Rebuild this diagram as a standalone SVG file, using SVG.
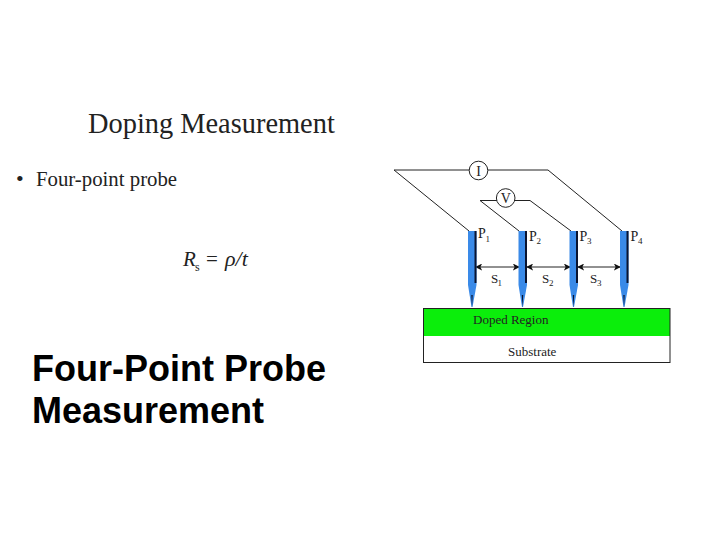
<svg xmlns="http://www.w3.org/2000/svg" width="720" height="540" viewBox="0 0 720 540">
<style>
.w{fill:none;stroke:#222;stroke-width:1}
.s{font-family:"Liberation Serif",serif;fill:#222}
.t{font-family:"Liberation Sans",Arial,sans-serif;font-size:36px;font-weight:700;fill:#000}
.body{fill:#3a8ae8}
.dark{fill:#0a1430}
.c{fill:#fff;stroke:#222;stroke-width:1}
</style>
<defs>
<marker id="a" viewBox="0 0 8 8" refX="7" refY="4" markerWidth="7" markerHeight="7" orient="auto-start-reverse" markerUnits="userSpaceOnUse"><path d="M0 0L8 4L0 8L2 4Z" fill="#111"/></marker>
<g id="probe"><path class="body" d="M0 0H8.500V54L4.500 76H3.500L0 54Z"/><path class="dark" d="M6.500 0H8.500V52H6.500Z"/><path class="dark" d="M3.300 64H4.700L4 76Z"/></g>
</defs>
<rect width="720" height="540" fill="#fff"/>
<text class="s" x="88" y="133" font-size="28.400" fill="#111">Doping Measurement</text>
<text class="s" x="16" y="186" font-size="22">•</text>
<text class="s" x="36" y="186" font-size="20.800" fill="#111">Four-point probe</text>
<text class="s" x="183" y="266" font-size="21" font-style="italic">R</text>
<text class="s" x="195" y="271" font-size="12">s</text>
<text class="s" x="206" y="266" font-size="21">=</text>
<text class="s" x="225" y="266" font-size="22" font-style="italic">ρ/t</text>
<text class="t" x="32" y="381">Four-Point Probe</text>
<text class="t" x="32" y="423">Measurement</text>
<g id="connectors">
<path class="w" d="M394 170H548L622 231M394 170L469 231"/>
<path class="w" d="M480 200.500H530L571 231M480 200.500L519 231"/>
<path class="w" marker-start="url(#a)" marker-end="url(#a)" d="M476 267H519"/>
<path class="w" marker-start="url(#a)" marker-end="url(#a)" d="M527 267H570"/>
<path class="w" marker-start="url(#a)" marker-end="url(#a)" d="M578 267H620"/>
</g>
<g id="doped"><rect x="423.500" y="308" width="246.500" height="28" fill="#0bee0b"/><text class="s" x="473" y="324" font-size="13">Doped Region</text></g>
<g id="substrate"><rect x="423.500" y="308.500" width="246.500" height="54" fill="none" stroke="#222"/><text class="s" x="508" y="355.500" font-size="13">Substrate</text></g>
<g id="I"><circle class="c" cx="478.500" cy="170.500" r="9.300"/><text class="s" x="478.500" y="175.500" font-size="14" text-anchor="middle">I</text></g>
<g id="V"><circle class="c" cx="505.700" cy="198" r="9.300"/><text class="s" x="505.700" y="203" font-size="14" text-anchor="middle">V</text></g>
<g id="P1"><use href="#probe" x="468" y="231"/><text class="s" x="478" y="238" font-size="14">P</text><text class="s" x="485.500" y="242" font-size="9">1</text></g>
<g id="P2"><use href="#probe" x="518.500" y="231"/><text class="s" x="529" y="240.500" font-size="14">P</text><text class="s" x="536.500" y="243.500" font-size="9">2</text></g>
<g id="P3"><use href="#probe" x="569.500" y="231"/><text class="s" x="579.500" y="240.500" font-size="14">P</text><text class="s" x="587" y="243.500" font-size="9">3</text></g>
<g id="P4"><use href="#probe" x="620" y="231"/><text class="s" x="630.500" y="240.500" font-size="14">P</text><text class="s" x="638" y="243.500" font-size="9">4</text></g>
<g id="S1"><text class="s" x="491" y="283" font-size="13">S</text><text class="s" x="497.500" y="286" font-size="9">1</text></g>
<g id="S2"><text class="s" x="542" y="283" font-size="13">S</text><text class="s" x="549" y="286" font-size="9">2</text></g>
<g id="S3"><text class="s" x="590" y="283" font-size="13">S</text><text class="s" x="597" y="286" font-size="9">3</text></g>
</svg>
